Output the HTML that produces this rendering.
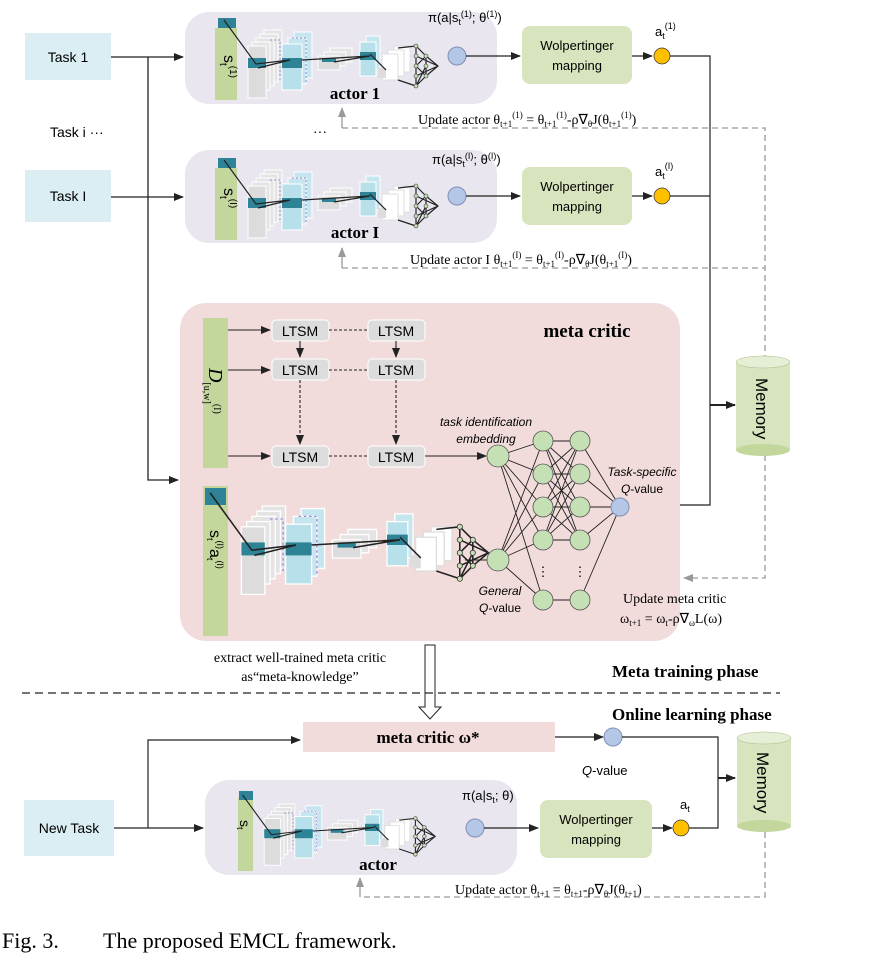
<!DOCTYPE html>
<html><head><meta charset="utf-8"><style>
body{margin:0;background:#fff;width:869px;height:964px;overflow:hidden}
svg{display:block}
.s{font-family:"Liberation Sans",sans-serif}
.r{font-family:"Liberation Serif",serif}
</style></head><body>
<svg width="869" height="964" viewBox="0 0 869 964" xmlns="http://www.w3.org/2000/svg">
<defs>
<marker id="a" markerWidth="10" markerHeight="10" refX="9" refY="5" orient="auto" markerUnits="userSpaceOnUse"><path d="M0,1 L10,5 L0,9 Z" fill="#222"/></marker>
<marker id="g" markerWidth="10" markerHeight="10" refX="9" refY="5" orient="auto" markerUnits="userSpaceOnUse"><path d="M0,1 L10,5 L0,9 Z" fill="#999"/></marker>
<g id="cnn">
 <rect x="34" y="10" width="18" height="48" fill="#e4e4e4" stroke="#fff"/>
 <rect x="30" y="14" width="18" height="48" fill="#e4e4e4" stroke="#fff"/>
 <rect x="26" y="18" width="18" height="48" fill="#e4e4e4" stroke="#fff"/>
 <rect x="22" y="22" width="18" height="48" fill="#e4e4e4" stroke="#fff"/>
 <rect x="18" y="26" width="18" height="52" fill="#dcdcdc" stroke="#fff"/>
 <rect x="18" y="38" width="18" height="10" fill="#2e8396"/>
 <path d="M40,20 h10 v40" fill="none" stroke="#a48ad8" stroke-dasharray="2,2"/>
 <rect x="64" y="12" width="18" height="46" fill="#c6e6ef" stroke="#fff"/>
 <rect x="58" y="18" width="18" height="46" fill="#c6e6ef" stroke="#fff"/>
 <rect x="52" y="24" width="20" height="46" fill="#b7e0ea" stroke="#fff"/>
 <rect x="52" y="38" width="20" height="10" fill="#2e8396"/>
 <path d="M62,18 h14 v44" fill="none" stroke="#a48ad8" stroke-dasharray="2,2"/>
 <rect x="100" y="28" width="22" height="14" fill="#e4e4e4" stroke="#fff"/>
 <rect x="94" y="32" width="22" height="14" fill="#e4e4e4" stroke="#fff"/>
 <rect x="88" y="36" width="22" height="14" fill="#dcdcdc" stroke="#fff"/>
 <rect x="92" y="38" width="14" height="4" fill="#2e8396"/>
 <rect x="136" y="16" width="14" height="34" fill="#c6e6ef" stroke="#fff"/>
 <rect x="130" y="22" width="16" height="34" fill="#b7e0ea" stroke="#fff"/>
 <rect x="130" y="32" width="16" height="8" fill="#2e8396"/>
 <rect x="164" y="26" width="16" height="26" fill="#fff" stroke="#ddd"/>
 <rect x="158" y="30" width="16" height="26" fill="#fff" stroke="#ddd"/>
 <rect x="152" y="34" width="16" height="26" fill="#fff" stroke="#ddd"/>
 <rect x="148" y="48" width="8" height="10" fill="#ddd"/>
 <path d="M-6,0 L26,44 L60,40 L28,48 M72,40 L140,36 L104,42 M140,34 L156,50" stroke="#222" fill="none" stroke-width="1.2"/>
 <g stroke="#222" stroke-width="1.2" fill="none">
  <path d="M168,28 L186,26 M168,60 L186,66 M186,26 L196,36 L186,46 L196,56 L186,66 M196,36 L196,56 M186,26 L186,66 L196,46 M196,36 L208,46 L196,56 M186,36 L208,46 M186,56 L208,46"/>
 </g>
 <g fill="#c5e0b4" stroke="#333" stroke-width=".6"><circle cx="186" cy="26" r="2"/><circle cx="186" cy="36" r="2"/><circle cx="186" cy="46" r="2"/><circle cx="186" cy="56" r="2"/><circle cx="186" cy="66" r="2"/><circle cx="196" cy="36" r="2"/><circle cx="196" cy="46" r="2"/><circle cx="196" cy="56" r="2"/></g>
</g>
</defs>

<rect x="25" y="33" width="86" height="47" fill="#daeef3"/>
<text x="68" y="62" class="s" font-size="14" text-anchor="middle">Task 1</text>
<rect x="25" y="170" width="86" height="52" fill="#daeef3"/>
<text x="68" y="201" class="s" font-size="14" text-anchor="middle">Task I</text>
<text x="50" y="137" class="s" font-size="14">Task i ···</text>

<g stroke="#222" stroke-width="1.3" fill="none">
<path d="M111,57 H183" marker-end="url(#a)"/>
<path d="M148,57 V480 H178" marker-end="url(#a)"/>
<path d="M111,197 H183" marker-end="url(#a)"/>
</g>

<rect x="185" y="12" width="312" height="92" rx="24" fill="#e9e6ef"/>
<rect x="215" y="28" width="22" height="72" fill="#c3d69b"/>
<rect x="218" y="18" width="18" height="10" fill="#2e8396"/>
<text transform="translate(224,55) rotate(90)" class="s" font-size="16">s<tspan font-size="10" dy="4">t</tspan><tspan font-size="10" dy="-10">(1)</tspan></text>
<use href="#cnn" x="230" y="20"/>
<circle cx="457" cy="56" r="9" fill="#b4c7e7" stroke="#7f8fb5"/>
<text x="428" y="22" class="s" font-size="13">π(a|s<tspan font-size="9" dy="3">t</tspan><tspan font-size="9" dy="-8">(1)</tspan><tspan dy="5">; θ</tspan><tspan font-size="9" dy="-5">(1)</tspan><tspan dy="5">)</tspan></text>
<text x="355" y="99" class="r" font-size="17" font-weight="bold" text-anchor="middle">actor 1</text>
<rect x="522" y="26" width="110" height="58" rx="8" fill="#d7e4bd"/>
<text x="577" y="50" class="s" font-size="13" text-anchor="middle">Wolpertinger</text>
<text x="577" y="70" class="s" font-size="13" text-anchor="middle">mapping</text>
<circle cx="662" cy="56" r="8" fill="#ffc000" stroke="#333" stroke-width=".7"/>
<text x="655" y="36" class="s" font-size="13">a<tspan font-size="9" dy="3">t</tspan><tspan font-size="9" dy="-10">(1)</tspan></text>
<text x="313" y="136" class="s" font-size="14">···</text>

<rect x="185" y="150" width="312" height="93" rx="24" fill="#e9e6ef"/>
<rect x="215" y="168" width="22" height="72" fill="#c3d69b"/>
<rect x="218" y="158" width="18" height="10" fill="#2e8396"/>
<text transform="translate(224,188) rotate(90)" class="s" font-size="16">s<tspan font-size="10" dy="4">t</tspan><tspan font-size="10" dy="-10">(I)</tspan></text>
<use href="#cnn" x="230" y="160"/>
<circle cx="457" cy="196" r="9" fill="#b4c7e7" stroke="#7f8fb5"/>
<text x="432" y="164" class="s" font-size="13">π(a|s<tspan font-size="9" dy="3">t</tspan><tspan font-size="9" dy="-8">(I)</tspan><tspan dy="5">; θ</tspan><tspan font-size="9" dy="-5">(I)</tspan><tspan dy="5">)</tspan></text>
<text x="355" y="238" class="r" font-size="17" font-weight="bold" text-anchor="middle">actor I</text>
<rect x="522" y="167" width="110" height="58" rx="8" fill="#d7e4bd"/>
<text x="577" y="191" class="s" font-size="13" text-anchor="middle">Wolpertinger</text>
<text x="577" y="211" class="s" font-size="13" text-anchor="middle">mapping</text>
<circle cx="662" cy="196" r="8" fill="#ffc000" stroke="#333" stroke-width=".7"/>
<text x="655" y="176" class="s" font-size="13">a<tspan font-size="9" dy="3">t</tspan><tspan font-size="9" dy="-10">(I)</tspan></text>

<g stroke="#222" stroke-width="1.2" fill="none">
<path d="M466,56 H520" marker-end="url(#a)"/>
<path d="M632,56 H652" marker-end="url(#a)"/>
<path d="M466,196 H520" marker-end="url(#a)"/>
<path d="M632,196 H652" marker-end="url(#a)"/>
<path d="M670,56 H710 V505 H629"/>
<path d="M670,196 H710"/>
<path d="M710,405 H735" marker-end="url(#a)" stroke-width="2"/>
</g>

<g stroke="#999" stroke-width="1.3" fill="none">
<path d="M342,128 H765 V578 H684" stroke-dasharray="6,4" marker-end="url(#g)"/>
<path d="M342,268 H765" stroke-dasharray="6,4"/>
<path d="M342,128 V108" marker-end="url(#g)"/>
<path d="M342,268 V248" marker-end="url(#g)"/>
</g>
<text x="418" y="124" class="r" font-size="14">Update actor  θ<tspan font-size="9" dy="3">t+1</tspan><tspan font-size="9" dy="-9">(1)</tspan><tspan dy="6"> = θ</tspan><tspan font-size="9" dy="3">t+1</tspan><tspan font-size="9" dy="-9">(1)</tspan><tspan dy="6">-ρ∇</tspan><tspan font-size="9" dy="3">θ</tspan><tspan dy="-3">J(θ</tspan><tspan font-size="9" dy="3">t+1</tspan><tspan font-size="9" dy="-9">(1)</tspan><tspan dy="6">)</tspan></text>
<text x="410" y="264" class="r" font-size="14">Update actor I  θ<tspan font-size="9" dy="3">t+1</tspan><tspan font-size="9" dy="-9">(I)</tspan><tspan dy="6"> = θ</tspan><tspan font-size="9" dy="3">t+1</tspan><tspan font-size="9" dy="-9">(I)</tspan><tspan dy="6">-ρ∇</tspan><tspan font-size="9" dy="3">θ</tspan><tspan dy="-3">J(θ</tspan><tspan font-size="9" dy="3">t+1</tspan><tspan font-size="9" dy="-9">(I)</tspan><tspan dy="6">)</tspan></text>

<g>
<rect x="736" y="362" width="54" height="88" fill="#d7e4bd"/>
<ellipse cx="763" cy="450" rx="27" ry="6" fill="#c3d69b"/>
<ellipse cx="763" cy="362" rx="27" ry="6" fill="#e6efd5" stroke="#aab98a" stroke-width=".5"/>
<text transform="translate(756,378) rotate(90)" class="s" font-size="17">Memory</text>
</g>

<rect x="180" y="303" width="500" height="338" rx="26" fill="#f2dcdb"/>
<text x="587" y="337" class="r" font-size="19" font-weight="bold" text-anchor="middle">meta critic</text>
<rect x="203" y="318" width="25" height="150" fill="#c3d69b"/>
<text transform="translate(209,368) rotate(90)" class="r" font-size="20" font-style="italic">D<tspan font-size="10" dy="5" font-style="normal">[u,w]</tspan><tspan font-size="10" dy="-10" font-style="normal">(I)</tspan></text>
<rect x="203" y="486" width="25" height="150" fill="#c3d69b"/>
<rect x="205" y="488" width="21" height="17" fill="#2e8396"/>
<text transform="translate(210,530) rotate(90)" class="s" font-size="16">s<tspan font-size="9" dy="3">t</tspan><tspan font-size="9" dy="-10">(I)</tspan><tspan dy="7">a</tspan><tspan font-size="9" dy="3">t</tspan><tspan font-size="9" dy="-10">(I)</tspan></text>
<g transform="translate(218,493) scale(1.3)"><use href="#cnn" x="0" y="0"/></g>

<g class="s" font-size="14" text-anchor="middle">
<rect x="272" y="320" width="57" height="21" rx="4" fill="#dcdcdc" stroke="#fff"/><text x="300" y="336">LTSM</text>
<rect x="368" y="320" width="57" height="21" rx="4" fill="#dcdcdc" stroke="#fff"/><text x="396" y="336">LTSM</text>
<rect x="272" y="359" width="57" height="21" rx="4" fill="#dcdcdc" stroke="#fff"/><text x="300" y="375">LTSM</text>
<rect x="368" y="359" width="57" height="21" rx="4" fill="#dcdcdc" stroke="#fff"/><text x="396" y="375">LTSM</text>
<rect x="272" y="446" width="57" height="21" rx="4" fill="#dcdcdc" stroke="#fff"/><text x="300" y="462">LTSM</text>
<rect x="368" y="446" width="57" height="21" rx="4" fill="#dcdcdc" stroke="#fff"/><text x="396" y="462">LTSM</text>
</g>
<g stroke="#222" stroke-width="1.1" fill="none">
<path d="M228,330 H270" marker-end="url(#a)"/>
<path d="M228,370 H270" marker-end="url(#a)"/>
<path d="M228,456 H270" marker-end="url(#a)"/>
<path d="M300,341 V357" marker-end="url(#a)"/>
<path d="M396,341 V357" marker-end="url(#a)"/>
<path d="M300,380 V444" stroke-dasharray="3,2" marker-end="url(#a)"/>
<path d="M396,380 V444" stroke-dasharray="3,2" marker-end="url(#a)"/>
<path d="M329,330 H368 M329,370 H368 M329,456 H368" stroke-dasharray="3,2"/>
<path d="M425,456 H486" marker-end="url(#a)"/>
</g>
<text x="486" y="426" class="s" font-size="12" font-style="italic" text-anchor="middle">task identification</text>
<text x="486" y="443" class="s" font-size="12" font-style="italic" text-anchor="middle">embedding</text>

<g stroke="#222" stroke-width=".9" fill="none">
<path d="M498,456 L543,441 M498,456 L543,474 M498,456 L543,507 M498,456 L543,540 M498,456 L543,600
M498,560 L543,441 M498,560 L543,474 M498,560 L543,507 M498,560 L543,540 M498,560 L543,600
M543,441 L580,441 L543,474 L580,507 L543,441 L580,474 L543,507 L580,540 L543,474 L580,441 L543,540 L580,474 L543,507 L580,507 L543,540 L580,540 L543,441 M580,441 L543,507 M580,474 L543,474 M580,507 L543,474 M580,540 L543,507 M543,600 L580,600
M580,441 L620,507 M580,474 L620,507 M580,507 L620,507 M580,540 L620,507 M580,600 L620,507"/>
<path d="M465,560 H487"/>
</g>
<g fill="#c5e0b4" stroke="#555" stroke-width=".8">
<circle cx="498" cy="456" r="11"/><circle cx="498" cy="560" r="11"/>
<circle cx="543" cy="441" r="10"/><circle cx="543" cy="474" r="10"/><circle cx="543" cy="507" r="10"/><circle cx="543" cy="540" r="10"/><circle cx="543" cy="600" r="10"/>
<circle cx="580" cy="441" r="10"/><circle cx="580" cy="474" r="10"/><circle cx="580" cy="507" r="10"/><circle cx="580" cy="540" r="10"/><circle cx="580" cy="600" r="10"/>
</g>
<text x="543" y="576" font-size="13" text-anchor="middle" class="s">⋮</text>
<text x="580" y="576" font-size="13" text-anchor="middle" class="s">⋮</text>
<circle cx="620" cy="507" r="9" fill="#b4c7e7" stroke="#7f8fb5"/>
<text x="642" y="476" class="s" font-size="12" font-style="italic" text-anchor="middle">Task-specific</text>
<text x="642" y="493" class="s" font-size="12" text-anchor="middle"><tspan font-style="italic">Q</tspan>-value</text>
<text x="500" y="595" class="s" font-size="12" font-style="italic" text-anchor="middle">General</text>
<text x="500" y="612" class="s" font-size="12" text-anchor="middle"><tspan font-style="italic">Q</tspan>-value</text>
<text x="623" y="603" class="r" font-size="14">Update meta critic</text>
<text x="620" y="623" class="r" font-size="14">ω<tspan font-size="9" dy="3">t+1</tspan><tspan dy="-3"> = ω</tspan><tspan font-size="9" dy="3">t</tspan><tspan dy="-3">-ρ∇</tspan><tspan font-size="9" dy="3">ω</tspan><tspan dy="-3">L(ω)</tspan></text>

<text x="300" y="662" class="r" font-size="14" text-anchor="middle">extract well-trained meta critic</text>
<text x="300" y="681" class="r" font-size="14" text-anchor="middle">as“meta-knowledge”</text>
<path d="M425,645 H435 V707 H441 L430,719 L419,707 H425 Z" fill="#fff" stroke="#222" stroke-width="1"/>
<text x="612" y="677" class="r" font-size="17" font-weight="bold">Meta training phase</text>
<path d="M22,693 H780" stroke="#222" stroke-width="1.3" stroke-dasharray="8,5"/>
<text x="612" y="720" class="r" font-size="17" font-weight="bold">Online learning phase</text>

<rect x="303" y="722" width="252" height="30" fill="#f2dcdb"/>
<text x="428" y="743" class="r" font-size="17" font-weight="bold" text-anchor="middle">meta critic ω*</text>
<rect x="24" y="800" width="90" height="56" fill="#daeef3"/>
<text x="69" y="833" class="s" font-size="14" text-anchor="middle">New Task</text>
<rect x="205" y="780" width="312" height="95" rx="24" fill="#e9e6ef"/>
<rect x="238" y="798" width="15" height="73" fill="#c3d69b"/>
<rect x="239" y="791" width="14" height="9" fill="#2e8396"/>
<text transform="translate(240,820) rotate(90)" class="s" font-size="14">s<tspan font-size="9" dy="3">t</tspan></text>
<g transform="translate(248,795) scale(0.9)"><use href="#cnn" x="0" y="0"/></g>
<circle cx="475" cy="828" r="9" fill="#b4c7e7" stroke="#7f8fb5"/>
<text x="462" y="800" class="s" font-size="13">π(a|s<tspan font-size="9" dy="3">t</tspan><tspan dy="-3">; θ)</tspan></text>
<text x="378" y="870" class="r" font-size="17" font-weight="bold" text-anchor="middle">actor</text>
<rect x="540" y="800" width="112" height="58" rx="8" fill="#d7e4bd"/>
<text x="596" y="824" class="s" font-size="13" text-anchor="middle">Wolpertinger</text>
<text x="596" y="844" class="s" font-size="13" text-anchor="middle">mapping</text>
<circle cx="681" cy="828" r="8" fill="#ffc000" stroke="#333" stroke-width=".7"/>
<text x="680" y="809" class="s" font-size="13">a<tspan font-size="9" dy="3">t</tspan></text>
<circle cx="613" cy="737" r="9" fill="#b4c7e7" stroke="#7f8fb5"/>
<text x="582" y="775" class="s" font-size="13"><tspan font-style="italic">Q</tspan>-value</text>
<g stroke="#222" stroke-width="1.2" fill="none">
<path d="M114,828 H203" marker-end="url(#a)"/>
<path d="M148,828 V740 H300" marker-end="url(#a)"/>
<path d="M555,737 H603" marker-end="url(#a)"/>
<path d="M484,828 H538" marker-end="url(#a)"/>
<path d="M652,828 H672" marker-end="url(#a)"/>
<path d="M622,737 H718 V828 H689"/>
<path d="M718,778 H735" marker-end="url(#a)" stroke-width="2"/>
</g>
<rect x="737" y="738" width="54" height="88" fill="#d7e4bd"/>
<ellipse cx="764" cy="826" rx="27" ry="6" fill="#c3d69b"/>
<ellipse cx="764" cy="738" rx="27" ry="6" fill="#e6efd5" stroke="#aab98a" stroke-width=".5"/>
<text transform="translate(757,752) rotate(90)" class="s" font-size="17">Memory</text>
<g stroke="#999" stroke-width="1.3" fill="none">
<path d="M765,832 V897 H360" stroke-dasharray="6,4"/>
<path d="M360,897 V878" marker-end="url(#g)"/>
</g>
<text x="455" y="894" class="r" font-size="14">Update actor  θ<tspan font-size="9" dy="3">t+1</tspan><tspan dy="-3"> = θ</tspan><tspan font-size="9" dy="3">t+1</tspan><tspan dy="-3">-ρ∇</tspan><tspan font-size="9" dy="3">θ</tspan><tspan dy="-3">J(θ</tspan><tspan font-size="9" dy="3">t+1</tspan><tspan dy="-3">)</tspan></text>

<text x="2" y="948" class="r" font-size="22">Fig. 3.</text>
<text x="103" y="948" class="r" font-size="22">The proposed EMCL framework.</text>
</svg>
</body></html>
